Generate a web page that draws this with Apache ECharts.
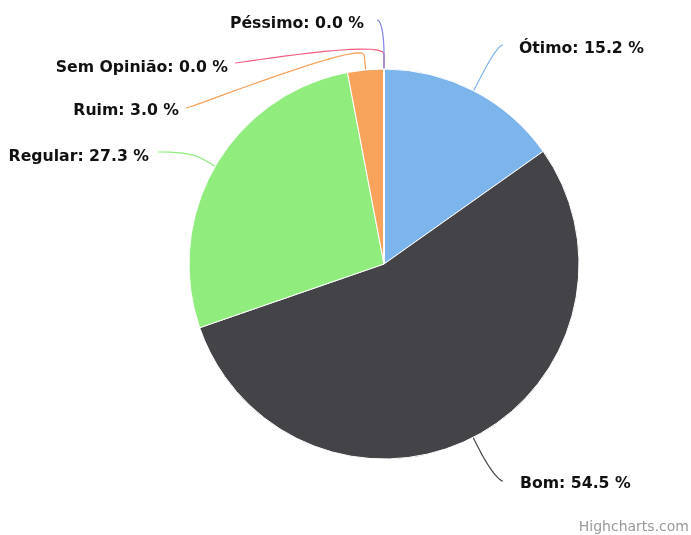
<!DOCTYPE html>
<html><head><meta charset="utf-8">
<script src="https://cdn.jsdelivr.net/npm/echarts@6/dist/echarts.min.js"></script>
<style>html,body{margin:0;padding:0;background:#fff}#c{width:691px;height:535px}</style>
</head><body><div id="c"></div>
<script>
const categories = ['Ótimo', 'Bom', 'Regular', 'Ruim', 'Sem Opinião', 'Péssimo'];
const percentages = [15.2, 54.5, 27.3, 3.0, 0.0, 0.0];
const colors = ['#7cb5ec', '#434348', '#90ed7d', '#f7a35c', '#f15c80', '#8085e9'];

// text placement of each data label (anchor x, middle y) and where its connector meets it
const labelPlacement = [
  { x: 519, y: 49,  align: 'left',  end: [503, 45] },
  { x: 520, y: 484, align: 'left',  end: [503, 481] },
  { x: 149, y: 156.5, align: 'right', end: [158, 152] },
  { x: 179, y: 111, align: 'right', end: [186, 108] },
  { x: 228, y: 68,  align: 'right', end: [235, 63] },
  { x: 364, y: 24,  align: 'right', end: [377, 20] }
];

const CX = 384, CY = 264, R = 195, BREAK = 15;

const chart = echarts.init(document.getElementById('c'), null, { renderer: 'canvas' });

function connector(idx, edge) {
  const p = labelPlacement[idx];
  const dx = edge[0] - CX, dy = edge[1] - CY;
  const len = Math.sqrt(dx * dx + dy * dy) || 1;
  const ux = dx / len, uy = dy / len;
  const b = [edge[0] + ux * BREAK, edge[1] + uy * BREAK];
  const p0 = p.end;
  const p1 = [p.end[0] + (p.align === 'left' ? -5 : 5), p.end[1]];
  const p2 = [2 * b[0] - edge[0], 2 * b[1] - edge[1]];
  const p3 = b;
  const pts = [edge.slice(), b.slice()];
  const N = 16;
  for (let i = N - 1; i >= 0; i--) {
    const t = i / N, mt = 1 - t;
    pts.push([
      mt * mt * mt * p0[0] + 3 * mt * mt * t * p1[0] + 3 * mt * t * t * p2[0] + t * t * t * p3[0],
      mt * mt * mt * p0[1] + 3 * mt * mt * t * p1[1] + 3 * mt * t * t * p2[1] + t * t * t * p3[1]
    ]);
  }
  return pts;
}

chart.setOption({
  animation: false,
  backgroundColor: '#ffffff',
  graphic: [{
    type: 'text', right: 2, bottom: 1,
    style: { text: 'Highcharts.com', fill: '#999999', font: '14px "DejaVu Sans", sans-serif' }
  }],
  series: [{
    type: 'pie',
    center: [CX, CY],
    radius: [0, R],
    startAngle: 90,
    clockwise: true,
    avoidLabelOverlap: false,
    itemStyle: { borderColor: '#ffffff', borderWidth: 1 },
    label: {
      show: true,
      formatter: p => p.name + ': ' + p.value.toFixed(1) + ' %',
      fontFamily: 'DejaVu Sans',
      fontWeight: 'bold',
      fontSize: 15.7,
      color: '#111111'
    },
    labelLine: { show: true, smooth: false, lineStyle: { width: 1.2 } },
    labelLayout: function (params) {
      const i = params.dataIndex;
      const p = labelPlacement[i];
      const edge = (params.labelLinePoints && params.labelLinePoints[0]) || [CX, CY - R];
      return {
        x: p.x, y: p.y, align: p.align, verticalAlign: 'middle',
        labelLinePoints: connector(i, [edge[0], edge[1]])
      };
    },
    data: categories.map((c, i) => ({ name: c, value: percentages[i], itemStyle: { color: colors[i] } }))
  }]
});
</script></body></html>
